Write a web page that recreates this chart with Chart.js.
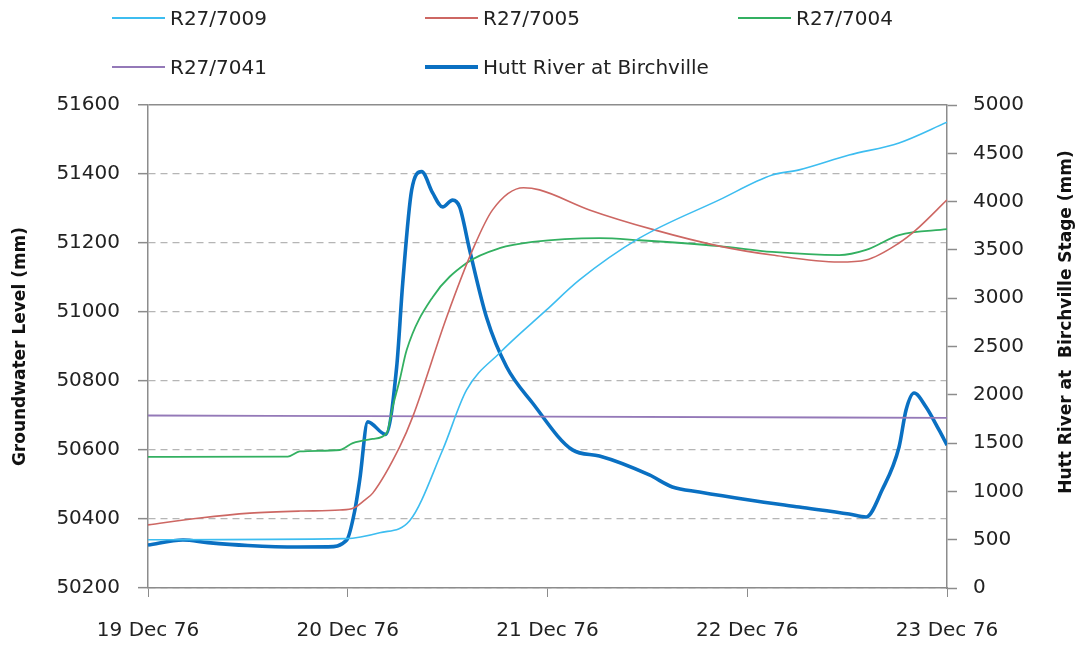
<!DOCTYPE html>
<html>
<head>
<meta charset="utf-8">
<script src="https://cdn.jsdelivr.net/npm/chart.js@4"></script>
<style>
  body { margin: 0; background: #fff; }
  #wrap { position: relative; width: 1084px; height: 646px; }
  #legend { position: absolute; left: 0; top: 0; width: 1084px; height: 90px; font-family: "DejaVu Sans", sans-serif; font-size: 20px; color: #222; }
  .item { position: absolute; height: 24px; line-height: 24px; white-space: nowrap; }
  .swatch { position: absolute; left: 0; width: 53px; }
  .label { position: absolute; left: 58px; top: 0; }
</style>
</head>
<body>
<div id="wrap">
  <canvas id="chart" width="1084" height="646"></canvas>
  <div id="legend"></div>
</div>
<script>
// x values are days after 19 Dec 76 00:00
const dayLabels = ['19 Dec 76', '20 Dec 76', '21 Dec 76', '22 Dec 76', '23 Dec 76'];

const t7009 = [0, 0.99, 1.16, 1.31, 1.475, 1.595, 1.76, 1.995, 2.16, 2.46, 2.86, 3.125, 3.26, 3.51, 3.76, 4.0];
const v7009 = [50340, 50343, 50360, 50395, 50600, 50774, 50881, 51006, 51093, 51214, 51325, 51397, 51412, 51455, 51490, 51550];

const t7005 = [0, 0.26, 0.51, 0.76, 0.96, 1.03, 1.085, 1.125, 1.26, 1.325, 1.495, 1.625, 1.725, 1.88, 1.96, 2.21, 2.535, 2.86, 3.125, 3.46, 3.595, 3.76, 3.845, 4.0];
const v7005 = [50383, 50403, 50417, 50423, 50426, 50432, 50455, 50475, 50609, 50696, 50985, 51180, 51296, 51360, 51354, 51296, 51238, 51191, 51165, 51145, 51151, 51200, 51238, 51325];

const t7004 = [0, 0.70, 0.76, 0.96, 1.025, 1.125, 1.195, 1.225, 1.26, 1.295, 1.425, 1.595, 1.76, 1.925, 2.26, 2.46, 2.86, 3.125, 3.46, 3.595, 3.76, 4.0];
const v7004 = [50580, 50581, 50596, 50600, 50620, 50632, 50649, 50725, 50803, 50890, 51043, 51142, 51185, 51203, 51214, 51208, 51191, 51174, 51165, 51180, 51223, 51240];

const t7041 = [0, 2, 4];
const v7041 = [50700, 50697, 50693];

const tHutt = [0, 0.175, 0.3, 0.5, 0.75, 0.9, 0.995, 1.035, 1.06, 1.10, 1.19, 1.245, 1.275, 1.32, 1.37, 1.425, 1.475, 1.525, 1.56, 1.61, 1.695, 1.795, 1.925, 2.125, 2.26, 2.51, 2.625, 2.76, 3.01, 3.26, 3.51, 3.595, 3.675, 3.76, 3.795, 3.835, 3.895, 3.96, 4.0];
const vHutt = [445, 497, 470, 440, 424, 426, 497, 800, 1120, 1720, 1590, 2290, 3150, 4120, 4310, 4090, 3945, 4015, 3945, 3500, 2800, 2290, 1915, 1430, 1366, 1170, 1046, 994, 911, 838, 766, 735, 1014, 1460, 1843, 2019, 1874, 1636, 1480];

function pts(ts, vs) {
    return ts.map((t, i) => ({ x: t, y: vs[i] }));
}

const FONT = '"DejaVu Sans", sans-serif';

function line(label, ts, vs, color, width, axis) {
    return {
        label: label,
        data: pts(ts, vs),
        borderColor: color,
        backgroundColor: color,
        borderWidth: width,
        pointRadius: 0,
        cubicInterpolationMode: 'monotone',
        yAxisID: axis
    };
}

const datasets = [
    line('R27/7009', t7009, v7009, '#3dbdf0', 1.6, 'y'),
    line('R27/7005', t7005, v7005, '#cd6763', 1.6, 'y'),
    line('R27/7004', t7004, v7004, '#33b061', 1.8, 'y'),
    line('R27/7041', t7041, v7041, '#9479b8', 1.8, 'y'),
    line('Hutt River at Birchville', tHutt, vHutt, '#0a70c2', 3.6, 'y2')
];

// right axis title reads bottom-to-top like the left one
const rightTitle = {
    id: 'rightTitle',
    afterDraw(chart) {
        const c = chart.ctx;
        c.save();
        c.font = 'bold 17px ' + FONT;
        c.fillStyle = '#111';
        c.textAlign = 'center';
        c.textBaseline = 'middle';
        c.translate(1067, 322);
        c.rotate(-Math.PI / 2);
        c.fillText('Hutt River at  Birchville Stage (mm)', 0, 0);
        c.restore();
    }
};

new Chart(document.getElementById('chart').getContext('2d'), {
    type: 'line',
    data: { datasets: datasets },
    options: {
        responsive: false,
        animation: false,
        devicePixelRatio: 1,
        layout: { padding: { top: 105, left: 0, right: 0, bottom: 0 } },
        plugins: { legend: { display: false }, tooltip: { enabled: false } },
        scales: {
            x: {
                type: 'linear',
                min: 0,
                max: 4,
                afterFit: s => { s.height = 58; },
                afterBuildTicks: s => { s.ticks = dayLabels.map((d, i) => ({ value: i })); },
                ticks: {
                    callback: (v) => dayLabels[v],
                    font: { family: FONT, size: 20 },
                    color: '#222',
                    padding: 22,
                    maxRotation: 0
                },
                grid: { drawOnChartArea: false, tickLength: 9, tickColor: '#8c8c8c' },
                border: { color: '#8c8c8c', width: 1.5 }
            },
            y: {
                position: 'left',
                min: 50200,
                max: 51600,
                afterFit: s => { s.width = 148; },
                ticks: {
                    stepSize: 200,
                    callback: v => String(v),
                    font: { family: FONT, size: 20 },
                    color: '#222',
                    padding: 18
                },
                grid: {
                    color: c => (c.tick && c.tick.value === 51600) ? '#8c8c8c' : '#b5b5b5',
                    lineWidth: c => (c.tick && c.tick.value === 51600) ? 1.5 : 1.3,
                    tickLength: 10,
                    tickColor: '#8c8c8c',
                    tickWidth: 1.5
                },
                border: {
                    color: '#8c8c8c',
                    width: 1.5,
                    dash: c => (c.tick && c.tick.value === 51600) ? [] : [7, 5]
                },
                title: {
                    display: true,
                    text: 'Groundwater Level (mm)',
                    font: { family: FONT, size: 17, weight: 'bold' },
                    color: '#111',
                    padding: { top: 10, bottom: 0 }
                }
            },
            y2: {
                position: 'right',
                min: 0,
                max: 5000,
                afterFit: s => { s.width = 137; },
                ticks: {
                    stepSize: 500,
                    callback: v => String(v),
                    font: { family: FONT, size: 20 },
                    color: '#222',
                    padding: 16
                },
                grid: { drawOnChartArea: false, tickLength: 10, tickColor: '#8c8c8c', tickWidth: 1.5 },
                border: { color: '#8c8c8c', width: 1.5 }
            }
        }
    },
    plugins: [rightTitle]
});

// legend laid out in the same grid as the reference
const legendPos = [[112, 6], [425, 6], [738, 6], [112, 55], [425, 55]];
const legendEl = document.getElementById('legend');
datasets.forEach((ds, i) => {
    const item = document.createElement('div');
    item.className = 'item';
    item.style.left = legendPos[i][0] + 'px';
    item.style.top = legendPos[i][1] + 'px';
    const sw = document.createElement('span');
    sw.className = 'swatch';
    const h = ds.borderWidth > 3 ? 4 : 2;
    sw.style.height = h + 'px';
    sw.style.top = (12 - h / 2) + 'px';
    sw.style.background = ds.borderColor;
    const lb = document.createElement('span');
    lb.className = 'label';
    lb.textContent = ds.label;
    item.appendChild(sw);
    item.appendChild(lb);
    legendEl.appendChild(item);
});
</script>
</body>
</html>
